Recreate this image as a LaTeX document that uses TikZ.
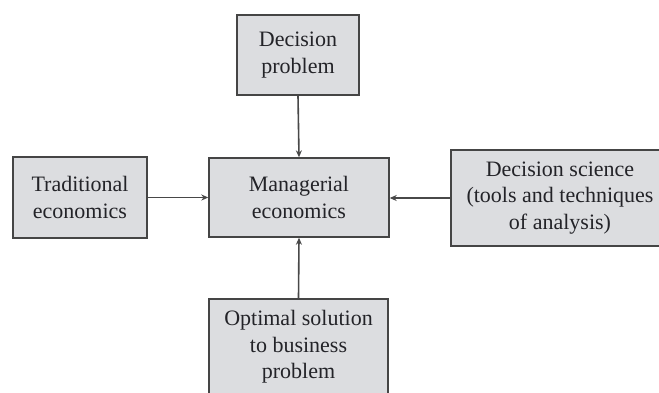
\documentclass[tikz,border=0pt]{standalone}
\usepackage{fontspec}
\setmainfont{Liberation Serif}
\usetikzlibrary{arrows.meta,shadows}
\definecolor{boxfill}{HTML}{DCDDE0}
\definecolor{boxline}{HTML}{454545}
\definecolor{inktext}{HTML}{232328}
\definecolor{arrowline}{HTML}{484848}
\tikzset{
  blockbox/.style={draw=boxline, line width=1.4pt, fill=boxfill,
    drop shadow={shadow xshift=1.3pt, shadow yshift=-1.3pt, opacity=0.7, fill=black!60},
    align=center, text=inktext, inner sep=0pt,
    font=\fontsize{22}{26.5}\selectfont},
  flow/.style={draw=arrowline, line width=1.6pt,
    -{Stealth[length=7pt,width=6pt]}}
}
\begin{document}
\begin{tikzpicture}[x=1pt,y=-1pt]
  \useasboundingbox (0,0) rectangle (659,392);
  \fill[white] (0,0) rectangle (659,392);
  \clip (0,0) rectangle (659,392);

  % the blocks
  \node[blockbox, minimum width=122pt, minimum height=80pt] (dp) at (298,55)
    {Decision\\problem};
  \node[blockbox, minimum width=180pt, minimum height=79pt] (me) at (299,197.5)
    {Managerial\\economics};
  \node[blockbox, minimum width=134pt, minimum height=81pt] (te) at (80,197.5)
    {Traditional\\economics};
  \node[blockbox, minimum width=218pt, minimum height=96pt] (ds) at (560,198)
    {Decision science\\(tools and techniques\\of analysis)};
  \node[blockbox, minimum width=179pt, minimum height=96pt] (os) at (298.5,347)
    {Optimal solution\\to business\\problem};

  % the inputs to managerial economics
  \draw[flow] (dp.south) -- (me.north);
  \draw[flow] (te.east) -- (te.east -| me.west);
  \draw[flow] (ds.west) -- (ds.west -| me.east);
  \draw[flow] (os.north) -- (me.south);
\end{tikzpicture}
\end{document}
